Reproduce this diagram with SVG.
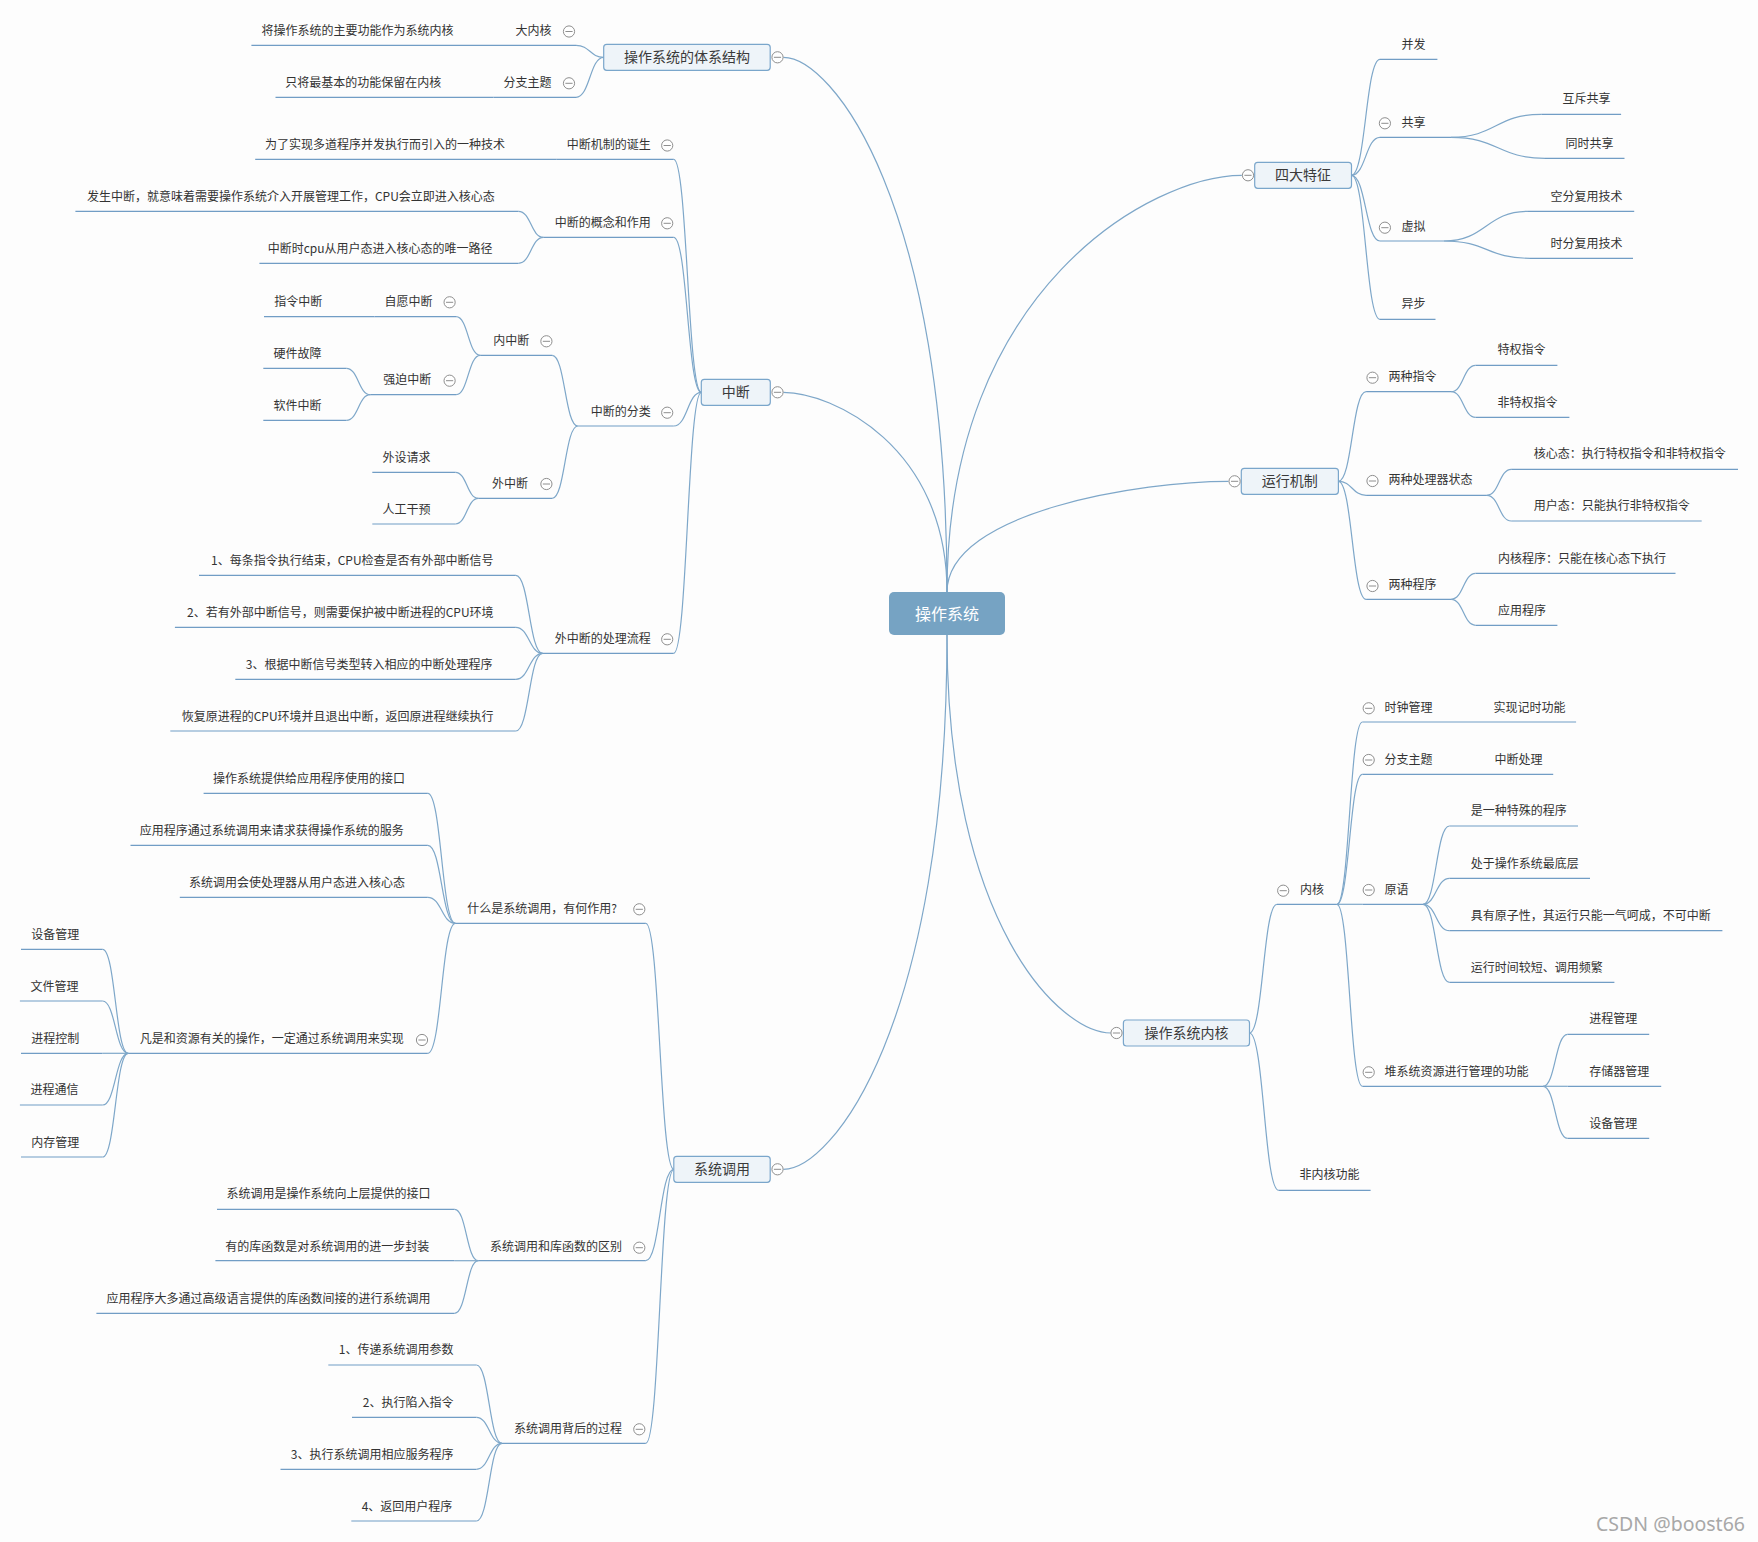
<svg xmlns="http://www.w3.org/2000/svg" xmlns:xlink="http://www.w3.org/1999/xlink" width="1758" height="1542" viewBox="0 0 1758 1542">
<style>
.ln{fill:none;stroke:#7ea7c9;stroke-width:1.2}
.ul{fill:none;stroke:#719dc5;stroke-width:1.2}
.t{font-family:"Noto Sans CJK SC","Noto Sans",sans-serif;font-size:12px;fill:#333;font-weight:normal}
.e{text-anchor:end}
.m{text-anchor:middle}
.t14{font-size:14px;fill:#3a3a3a}
.box{fill:#eef4f9;stroke:#7aa6cb;stroke-width:1.2}
.wm{font-family:"Noto Sans","DejaVu Sans",sans-serif;font-size:19.5px;fill:#a8a8a8}
</style>
<defs>
<g id="minus"><circle r="5.6" fill="#fff" stroke="#8e8e8e" stroke-width="1"/><line x1="-3.6" y1="0" x2="3.6" y2="0" stroke="#8e8e8e" stroke-width="1"/></g>
</defs>
<rect width="1758" height="1542" fill="#fdfdfd"/>

<g id="connectors">
<path class="ln" d="M783.3 57.3 C832 57.3 947 202 947 592"/>
<path class="ln" d="M783.3 392.3 C832 392.3 947 446 947 592"/>
<path class="ln" d="M1241.8 175.3 C1153 175.3 947 288 947 592"/>
<path class="ln" d="M1228.5 481.3 C1144 481.3 947 511 947 592"/>
<path class="ln" d="M783.3 1169.3 C832 1169.3 947 1025 947 635"/>
<path class="ln" d="M1110.8 1033 C1061 1033 947 926 947 635"/>
<path class="ln" d="M576 45.3 C589.9 45.3 589.9 57.3 603.7 57.3"/>
<path class="ln" d="M576 97.3 C589.9 97.3 589.9 57.3 603.7 57.3"/>
<path class="ln" d="M673.7 159.3 C687.5 159.3 687.5 392.3 701.3 392.3"/>
<path class="ln" d="M673.7 237.3 C687.5 237.3 687.5 392.3 701.3 392.3"/>
<path class="ln" d="M673.7 426 C687.5 426 687.5 392.3 701.3 392.3"/>
<path class="ln" d="M673.7 653.3 C687.5 653.3 687.5 392.3 701.3 392.3"/>
<path class="ln" d="M518.5 211.3 C531 211.3 531 237.3 543.4 237.3"/>
<path class="ln" d="M518.5 263.3 C531 263.3 531 237.3 543.4 237.3"/>
<path class="ln" d="M552.2 355.3 C565 355.3 565 426 577.8 426"/>
<path class="ln" d="M552.2 498.3 C565 498.3 565 426 577.8 426"/>
<path class="ln" d="M456.1 316.7 C468.2 316.7 468.2 355.3 480.2 355.3"/>
<path class="ln" d="M456.1 394.7 C468.2 394.7 468.2 355.3 480.2 355.3"/>
<path class="ln" d="M346.3 368.3 C358.4 368.3 358.4 394.7 370.4 394.7"/>
<path class="ln" d="M346.3 420.3 C358.4 420.3 358.4 394.7 370.4 394.7"/>
<path class="ln" d="M455.4 472.3 C466.9 472.3 466.9 498.3 478.3 498.3"/>
<path class="ln" d="M455.4 524 C466.9 524 466.9 498.3 478.3 498.3"/>
<path class="ln" d="M515.8 575.3 C529.2 575.3 529.2 653.3 542.6 653.3"/>
<path class="ln" d="M515.8 627.3 C529.2 627.3 529.2 653.3 542.6 653.3"/>
<path class="ln" d="M515.8 679.3 C529.2 679.3 529.2 653.3 542.6 653.3"/>
<path class="ln" d="M515.8 731 C529.2 731 529.2 653.3 542.6 653.3"/>
<path class="ln" d="M645.8 923.3 C659.8 923.3 659.8 1169.3 673.8 1169.3"/>
<path class="ln" d="M645.8 1260.7 C659.8 1260.7 659.8 1169.3 673.8 1169.3"/>
<path class="ln" d="M645.8 1443.3 C659.8 1443.3 659.8 1169.3 673.8 1169.3"/>
<path class="ln" d="M427.8 793.3 C441.6 793.3 441.6 923.3 455.4 923.3"/>
<path class="ln" d="M427.8 845.3 C441.6 845.3 441.6 923.3 455.4 923.3"/>
<path class="ln" d="M427.8 897.3 C441.6 897.3 441.6 923.3 455.4 923.3"/>
<path class="ln" d="M427.8 1053.3 C441.6 1053.3 441.6 923.3 455.4 923.3"/>
<path class="ln" d="M102.6 949.3 C115.4 949.3 115.4 1053.3 128.2 1053.3"/>
<path class="ln" d="M102.6 1001 C115.4 1001 115.4 1053.3 128.2 1053.3"/>
<path class="ln" d="M102.6 1053.3 H128.2"/>
<path class="ln" d="M102.6 1105 C115.4 1105 115.4 1053.3 128.2 1053.3"/>
<path class="ln" d="M102.6 1157 C115.4 1157 115.4 1053.3 128.2 1053.3"/>
<path class="ln" d="M454.6 1209.3 C466.5 1209.3 466.5 1260.7 478.3 1260.7"/>
<path class="ln" d="M454.6 1260.7 H478.3"/>
<path class="ln" d="M454.6 1313.3 C466.5 1313.3 466.5 1260.7 478.3 1260.7"/>
<path class="ln" d="M476.4 1365 C489.2 1365 489.2 1443.3 502 1443.3"/>
<path class="ln" d="M476.4 1417.3 C489.2 1417.3 489.2 1443.3 502 1443.3"/>
<path class="ln" d="M476.4 1469.3 C489.2 1469.3 489.2 1443.3 502 1443.3"/>
<path class="ln" d="M476.4 1521 C489.2 1521 489.2 1443.3 502 1443.3"/>
<path class="ln" d="M1351.5 175.3 C1365.7 175.3 1365.7 59.3 1380 59.3"/>
<path class="ln" d="M1351.5 175.3 C1365.7 175.3 1365.7 137.3 1380 137.3"/>
<path class="ln" d="M1351.5 175.3 C1365.7 175.3 1365.7 241 1380 241"/>
<path class="ln" d="M1351.5 175.3 C1365.7 175.3 1365.7 319.3 1380 319.3"/>
<path class="ln" d="M1451 137.3 C1496 137.3 1496 114.3 1541.3 114.3"/>
<path class="ln" d="M1451 137.3 C1498 137.3 1498 158.3 1545 158.3"/>
<path class="ln" d="M1444 241 C1486 241 1486 211.3 1528 211.3"/>
<path class="ln" d="M1444 241 C1487 241 1487 258.3 1530 258.3"/>
<path class="ln" d="M1338.4 481.3 C1352.2 481.3 1352.2 391.7 1366.1 391.7"/>
<path class="ln" d="M1338.4 481.3 C1352.2 481.3 1352.2 495.3 1366.1 495.3"/>
<path class="ln" d="M1338.4 481.3 C1352.2 481.3 1352.2 599.3 1366.1 599.3"/>
<path class="ln" d="M1451.2 391.7 C1463.4 391.7 1463.4 365.3 1475.6 365.3"/>
<path class="ln" d="M1451.2 391.7 C1463.4 391.7 1463.4 417.3 1475.6 417.3"/>
<path class="ln" d="M1486.9 495.3 C1499.1 495.3 1499.1 469.3 1511.2 469.3"/>
<path class="ln" d="M1486.9 495.3 C1499.1 495.3 1499.1 521 1511.2 521"/>
<path class="ln" d="M1451.2 599.3 C1463.4 599.3 1463.4 573.3 1475.6 573.3"/>
<path class="ln" d="M1451.2 599.3 C1463.4 599.3 1463.4 625.3 1475.6 625.3"/>
<path class="ln" d="M1249.5 1033 C1263.2 1033 1263.2 904.3 1276.9 904.3"/>
<path class="ln" d="M1249.5 1033 C1264.1 1033 1264.1 1190.3 1278.7 1190.3"/>
<path class="ln" d="M1336.9 904.3 C1349.6 904.3 1349.6 722 1362.4 722"/>
<path class="ln" d="M1336.9 904.3 C1349.6 904.3 1349.6 774.3 1362.4 774.3"/>
<path class="ln" d="M1336.9 904.3 H1362.4"/>
<path class="ln" d="M1336.9 904.3 C1349.6 904.3 1349.6 1086.3 1362.4 1086.3"/>
<path class="ln" d="M1423.1 904.3 C1436.2 904.3 1436.2 826 1449.4 826"/>
<path class="ln" d="M1423.1 904.3 C1436.2 904.3 1436.2 878.3 1449.4 878.3"/>
<path class="ln" d="M1423.1 904.3 C1436.2 904.3 1436.2 930.7 1449.4 930.7"/>
<path class="ln" d="M1423.1 904.3 C1436.2 904.3 1436.2 982.3 1449.4 982.3"/>
<path class="ln" d="M1543.1 1086.3 C1555.3 1086.3 1555.3 1034.3 1567.5 1034.3"/>
<path class="ln" d="M1543.1 1086.3 H1567.5"/>
<path class="ln" d="M1543.1 1086.3 C1555.3 1086.3 1555.3 1138.3 1567.5 1138.3"/>
</g>

<g id="root">
<rect x="889" y="592" width="116" height="43" rx="5" fill="#76a3c3"/>
<text class="t m" x="947" y="619.5" style="font-size:16px;fill:#fff">操作系统</text>
</g>

<g id="n-arch">
<rect class="box" x="603.7" y="44.3" width="166.5" height="26" rx="3"/>
<text class="t t14 m" x="687" y="62.3">操作系统的体系结构</text>
<use xlink:href="#minus" x="777.5" y="57.3"/>
</g>
<g id="n-int">
<rect class="box" x="701.3" y="379.3" width="69" height="26" rx="3"/>
<text class="t t14 m" x="735.8" y="397.3">中断</text>
<use xlink:href="#minus" x="777.5" y="392.3"/>
</g>
<g id="n-sys">
<rect class="box" x="673.8" y="1156.3" width="96.4" height="26" rx="3"/>
<text class="t t14 m" x="722" y="1174.3">系统调用</text>
<use xlink:href="#minus" x="777.5" y="1169.3"/>
</g>
<g id="n-kernel">
<rect class="box" x="1123.4" y="1020" width="126.1" height="26" rx="3"/>
<text class="t t14 m" x="1186.5" y="1038">操作系统内核</text>
<use xlink:href="#minus" x="1116.5" y="1033"/>
</g>
<g id="n-four">
<rect class="box" x="1254.7" y="162.3" width="96.8" height="26" rx="3"/>
<text class="t t14 m" x="1303" y="180.3">四大特征</text>
<use xlink:href="#minus" x="1248" y="175.3"/>
</g>
<g id="n-run">
<rect class="box" x="1241.3" y="468.3" width="97.1" height="26" rx="3"/>
<text class="t t14 m" x="1289.8" y="486.3">运行机制</text>
<use xlink:href="#minus" x="1234.6" y="481.3"/>
</g>

<g id="n-big"><path class="ul" d="M505 45.3 H576"/><text class="t e" x="551.4" y="35.4">大内核</text><use xlink:href="#minus" x="569" y="31.5"/></g>
<g id="n-big-1"><path class="ul" d="M251.4 45.3 H505"/><text class="t e" x="453.5" y="35.4">将操作系统的主要功能作为系统内核</text></g>
<g id="n-branch"><path class="ul" d="M493.6 97.3 H576"/><text class="t e" x="551.4" y="87.1">分支主题</text><use xlink:href="#minus" x="569" y="83.3"/></g>
<g id="n-branch-1"><path class="ul" d="M275.5 97.3 H493.6"/><text class="t e" x="441.2" y="87.1">只将最基本的功能保留在内核</text></g>

<g id="n-birth"><path class="ul" d="M556.8 159.3 H673.7"/><text class="t e" x="650.8" y="149.4">中断机制的诞生</text><use xlink:href="#minus" x="667.2" y="145.5"/></g>
<g id="n-birth-1"><path class="ul" d="M255.2 159.3 H556.8"/><text class="t e" x="505.1" y="148.7">为了实现多道程序并发执行而引入的一种技术</text></g>
<g id="n-concept"><path class="ul" d="M543.4 237.3 H673.7"/><text class="t e" x="650.8" y="227.1">中断的概念和作用</text><use xlink:href="#minus" x="667.2" y="223.3"/></g>
<g id="n-concept-1"><path class="ul" d="M75.4 211.3 H518.5"/><text class="t e" x="494.8" y="201.1">发生中断，就意味着需要操作系统介入开展管理工作，CPU会立即进入核心态</text></g>
<g id="n-concept-2"><path class="ul" d="M259.4 263.3 H518.5"/><text class="t e" x="492.5" y="252.7">中断时cpu从用户态进入核心态的唯一路径</text></g>
<g id="n-class"><path class="ul" d="M577.8 426 H673.7"/><text class="t e" x="650.8" y="416.4">中断的分类</text><use xlink:href="#minus" x="667.2" y="412.7"/></g>
<g id="n-inner"><path class="ul" d="M480.2 355.3 H552.2"/><text class="t e" x="529.2" y="345.1">内中断</text><use xlink:href="#minus" x="546.4" y="341.3"/></g>
<g id="n-vol"><path class="ul" d="M374.6 316.7 H456.1"/><text class="t e" x="432.4" y="306.1">自愿中断</text><use xlink:href="#minus" x="449.6" y="302.3"/></g>
<g id="n-vol-1"><path class="ul" d="M264 316.7 H374.6"/><text class="t e" x="322.2" y="306.1">指令中断</text></g>
<g id="n-force"><path class="ul" d="M370.4 394.7 H456.1"/><text class="t e" x="431.3" y="384.4">强迫中断</text><use xlink:href="#minus" x="449.6" y="380.7"/></g>
<g id="n-force-1"><path class="ul" d="M263.3 368.3 H346.3"/><text class="t e" x="321.4" y="357.7">硬件故障</text></g>
<g id="n-force-2"><path class="ul" d="M263.3 420.3 H346.3"/><text class="t e" x="321.4" y="410.1">软件中断</text></g>
<g id="n-outer"><path class="ul" d="M478.3 498.3 H552.2"/><text class="t e" x="528" y="487.7">外中断</text><use xlink:href="#minus" x="546.4" y="484"/></g>
<g id="n-outer-1"><path class="ul" d="M372.3 472.3 H455.4"/><text class="t e" x="430.5" y="462.1">外设请求</text></g>
<g id="n-outer-2"><path class="ul" d="M372.3 524 H455.4"/><text class="t e" x="430.5" y="513.7">人工干预</text></g>
<g id="n-flow"><path class="ul" d="M542.6 653.3 H673.7"/><text class="t e" x="650.8" y="642.7">外中断的处理流程</text><use xlink:href="#minus" x="667.2" y="639.3"/></g>
<g id="n-flow-1"><path class="ul" d="M199 575.3 H515.8"/><text class="t e" x="493.6" y="565.1">1、每条指令执行结束，CPU检查是否有外部中断信号</text></g>
<g id="n-flow-2"><path class="ul" d="M174.9 627.3 H515.8"/><text class="t e" x="493.6" y="617.1">2、若有外部中断信号，则需要保护被中断进程的CPU环境</text></g>
<g id="n-flow-3"><path class="ul" d="M235.3 679.3 H515.8"/><text class="t e" x="492.5" y="668.7">3、根据中断信号类型转入相应的中断处理程序</text></g>
<g id="n-flow-4"><path class="ul" d="M170.3 731 H515.8"/><text class="t e" x="493.6" y="721.1">恢复原进程的CPU环境并且退出中断，返回原进程继续执行</text></g>

<g id="n-what"><path class="ul" d="M455.4 923.3 H645.8"/><text class="t e" x="617" y="912.7">什么是系统调用，有何作用?</text><use xlink:href="#minus" x="639.3" y="909.3"/></g>
<g id="n-what-1"><path class="ul" d="M203.6 793.3 H427.8"/><text class="t e" x="404.9" y="782.7">操作系统提供给应用程序使用的接口</text></g>
<g id="n-what-2"><path class="ul" d="M130.5 845.3 H427.8"/><text class="t e" x="403.7" y="835.1">应用程序通过系统调用来请求获得操作系统的服务</text></g>
<g id="n-what-3"><path class="ul" d="M179.8 897.3 H427.8"/><text class="t e" x="404.9" y="887.1">系统调用会使处理器从用户态进入核心态</text></g>
<g id="n-what-4"><path class="ul" d="M128.2 1053.3 H427.8"/><text class="t e" x="403.7" y="1043.4">凡是和资源有关的操作，一定通过系统调用来实现</text><use xlink:href="#minus" x="422" y="1040"/></g>
<g id="n-res-1"><path class="ul" d="M21 949.3 H102.6"/><text class="t e" x="79.2" y="938.7">设备管理</text></g>
<g id="n-res-2"><path class="ul" d="M19.9 1001 H102.6"/><text class="t e" x="78.4" y="991.1">文件管理</text></g>
<g id="n-res-3"><path class="ul" d="M21 1053.3 H102.6"/><text class="t e" x="79.2" y="1042.7">进程控制</text></g>
<g id="n-res-4"><path class="ul" d="M19.9 1105 H102.6"/><text class="t e" x="78.4" y="1094.4">进程通信</text></g>
<g id="n-res-5"><path class="ul" d="M21 1157 H102.6"/><text class="t e" x="79.2" y="1146.7">内存管理</text></g>
<g id="n-diff"><path class="ul" d="M478.3 1260.7 H645.8"/><text class="t e" x="622.1" y="1251.1">系统调用和库函数的区别</text><use xlink:href="#minus" x="639.3" y="1247.7"/></g>
<g id="n-diff-1"><path class="ul" d="M217 1209.3 H454.6"/><text class="t e" x="430.5" y="1198.4">系统调用是操作系统向上层提供的接口</text></g>
<g id="n-diff-2"><path class="ul" d="M215.4 1260.7 H454.6"/><text class="t e" x="429.3" y="1251.1">有的库函数是对系统调用的进一步封装</text></g>
<g id="n-diff-3"><path class="ul" d="M96.4 1313.3 H454.6"/><text class="t e" x="430.5" y="1302.7">应用程序大多通过高级语言提供的库函数间接的进行系统调用</text></g>
<g id="n-proc"><path class="ul" d="M502 1443.3 H645.8"/><text class="t e" x="622.1" y="1432.7">系统调用背后的过程</text><use xlink:href="#minus" x="639.3" y="1429.3"/></g>
<g id="n-proc-1"><path class="ul" d="M328.3 1365 H476.4"/><text class="t e" x="453.4" y="1354.4">1、传递系统调用参数</text></g>
<g id="n-proc-2"><path class="ul" d="M352 1417.3 H476.4"/><text class="t e" x="453.4" y="1406.7">2、执行陷入指令</text></g>
<g id="n-proc-3"><path class="ul" d="M280.5 1469.3 H476.4"/><text class="t e" x="453.4" y="1458.7">3、执行系统调用相应服务程序</text></g>
<g id="n-proc-4"><path class="ul" d="M351.3 1521 H476.4"/><text class="t e" x="452.3" y="1511.1">4、返回用户程序</text></g>

<g id="n-conc"><path class="ul" d="M1380 59.3 H1437.4"/><text class="t" x="1401.4" y="48.7">并发</text></g>
<g id="n-share"><path class="ul" d="M1380 137.3 H1451"/><text class="t" x="1401.4" y="127.1">共享</text><use xlink:href="#minus" x="1384.9" y="123.3"/></g>
<g id="n-share-1"><path class="ul" d="M1541.3 114.3 H1621.1"/><text class="t" x="1562.6" y="103.4">互斥共享</text></g>
<g id="n-share-2"><path class="ul" d="M1545 158.3 H1624.5"/><text class="t" x="1565.6" y="147.7">同时共享</text></g>
<g id="n-virt"><path class="ul" d="M1380 241 H1444"/><text class="t" x="1401.4" y="231.1">虚拟</text><use xlink:href="#minus" x="1384.9" y="227.7"/></g>
<g id="n-virt-1"><path class="ul" d="M1528 211.3 H1634.2"/><text class="t" x="1550.6" y="201.1">空分复用技术</text></g>
<g id="n-virt-2"><path class="ul" d="M1530 258.3 H1633"/><text class="t" x="1550.6" y="247.7">时分复用技术</text></g>
<g id="n-async"><path class="ul" d="M1380 319.3 H1435.5"/><text class="t" x="1401.4" y="308.4">异步</text></g>

<g id="n-ins"><path class="ul" d="M1366.1 391.7 H1451.2"/><text class="t" x="1388.6" y="381.1">两种指令</text><use xlink:href="#minus" x="1372.5" y="377.7"/></g>
<g id="n-ins-1"><path class="ul" d="M1475.6 365.3 H1557.4"/><text class="t" x="1497.4" y="354.4">特权指令</text></g>
<g id="n-ins-2"><path class="ul" d="M1475.6 417.3 H1569.4"/><text class="t" x="1497.4" y="406.7">非特权指令</text></g>
<g id="n-state"><path class="ul" d="M1366.1 495.3 H1486.9"/><text class="t" x="1388.6" y="484.4">两种处理器状态</text><use xlink:href="#minus" x="1372.5" y="481"/></g>
<g id="n-state-1"><path class="ul" d="M1511.2 469.3 H1738"/><text class="t" x="1533.7" y="458.4">核心态：执行特权指令和非特权指令</text></g>
<g id="n-state-2"><path class="ul" d="M1511.2 521 H1701.7"/><text class="t" x="1533.7" y="510.4">用户态：只能执行非特权指令</text></g>
<g id="n-prog"><path class="ul" d="M1366.1 599.3 H1451.2"/><text class="t" x="1388.6" y="589.4">两种程序</text><use xlink:href="#minus" x="1372.5" y="586"/></g>
<g id="n-prog-1"><path class="ul" d="M1475.6 573.3 H1675.5"/><text class="t" x="1498" y="563.4">内核程序：只能在核心态下执行</text></g>
<g id="n-prog-2"><path class="ul" d="M1475.6 625.3 H1557.4"/><text class="t" x="1498" y="615.1">应用程序</text></g>

<g id="n-core"><path class="ul" d="M1276.9 904.3 H1336.9"/><text class="t" x="1300.1" y="894.4">内核</text><use xlink:href="#minus" x="1283.2" y="890.7"/></g>
<g id="n-clock"><path class="ul" d="M1362.4 722 H1470"/><text class="t" x="1384.5" y="712.1">时钟管理</text><use xlink:href="#minus" x="1368.7" y="708.3"/></g>
<g id="n-clock-1"><path class="ul" d="M1470 722 H1576.1"/><text class="t" x="1493.6" y="712.1">实现记时功能</text></g>
<g id="n-branch2"><path class="ul" d="M1362.4 774.3 H1470"/><text class="t" x="1384.5" y="763.7">分支主题</text><use xlink:href="#minus" x="1368.7" y="760"/></g>
<g id="n-branch2-1"><path class="ul" d="M1470 774.3 H1553.2"/><text class="t" x="1494.4" y="763.7">中断处理</text></g>
<g id="n-prim"><path class="ul" d="M1362.4 904.3 H1423.1"/><text class="t" x="1384.5" y="893.7">原语</text><use xlink:href="#minus" x="1368.7" y="890"/></g>
<g id="n-prim-1"><path class="ul" d="M1449.4 826 H1578"/><text class="t" x="1470.7" y="815.4">是一种特殊的程序</text></g>
<g id="n-prim-2"><path class="ul" d="M1449.4 878.3 H1590"/><text class="t" x="1470.7" y="867.7">处于操作系统最底层</text></g>
<g id="n-prim-3"><path class="ul" d="M1449.4 930.7 H1722.4"/><text class="t" x="1470.7" y="920.1">具有原子性，其运行只能一气呵成，不可中断</text></g>
<g id="n-prim-4"><path class="ul" d="M1449.4 982.3 H1614.4"/><text class="t" x="1470.7" y="972.1">运行时间较短、调用频繁</text></g>
<g id="n-mgmt"><path class="ul" d="M1362.4 1086.3 H1543.1"/><text class="t" x="1384.5" y="1076.1">堆系统资源进行管理的功能</text><use xlink:href="#minus" x="1368.7" y="1072.3"/></g>
<g id="n-mgmt-1"><path class="ul" d="M1567.5 1034.3 H1649.2"/><text class="t" x="1589.2" y="1023.4">进程管理</text></g>
<g id="n-mgmt-2"><path class="ul" d="M1567.5 1086.3 H1661.2"/><text class="t" x="1589.2" y="1076.1">存储器管理</text></g>
<g id="n-mgmt-3"><path class="ul" d="M1567.5 1138.3 H1649.2"/><text class="t" x="1589.2" y="1127.7">设备管理</text></g>
<g id="n-nonkernel"><path class="ul" d="M1278.7 1190.3 H1370.6"/><text class="t" x="1299.4" y="1179.4">非内核功能</text></g>

<text class="wm" x="1596" y="1531">CSDN @boost66</text>
</svg>
